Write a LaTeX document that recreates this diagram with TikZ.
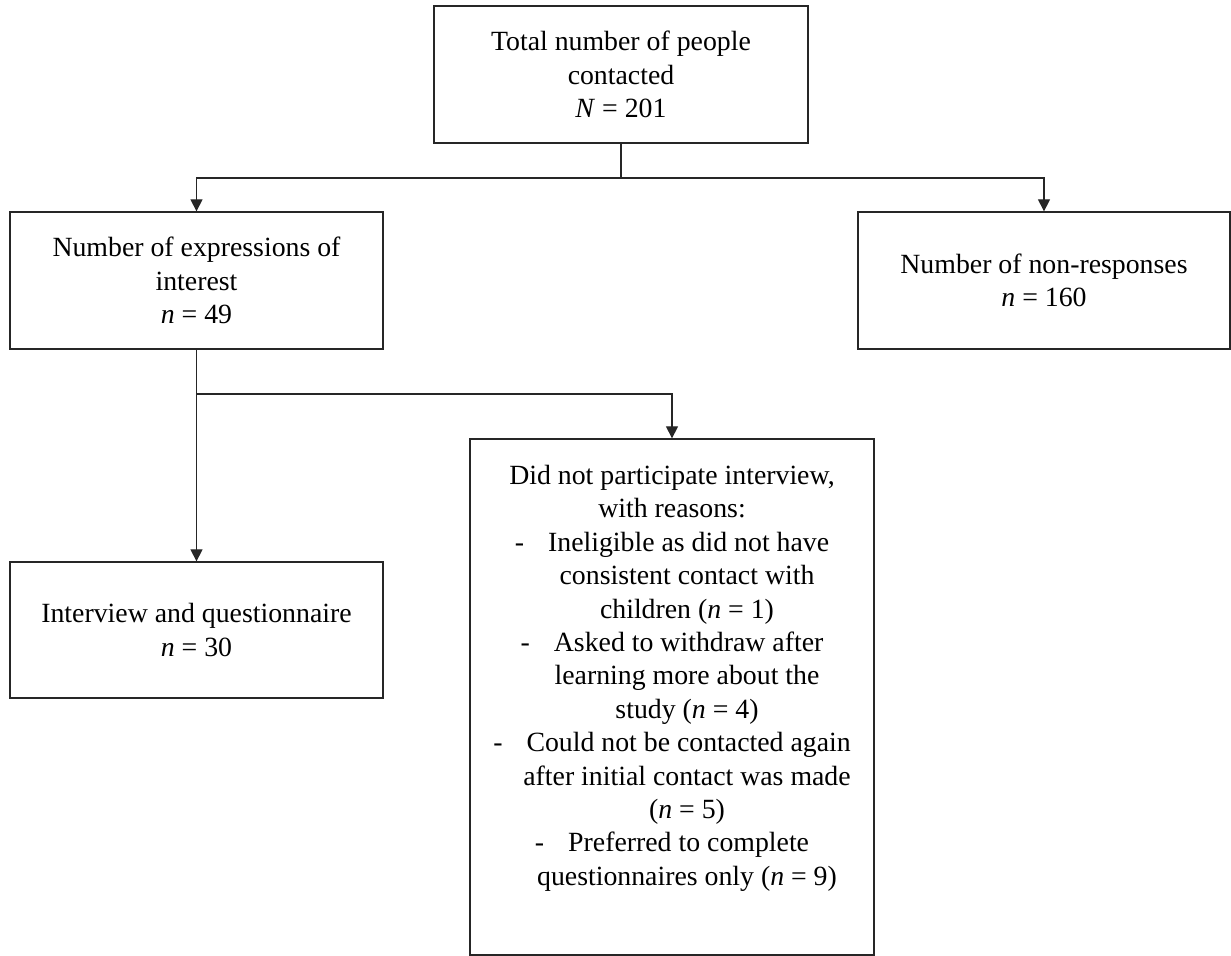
\documentclass[tikz,border=0pt]{standalone}
\usepackage{fontspec}
\setmainfont{Liberation Serif}
\usetikzlibrary{arrows.meta}

\begin{document}
\begin{tikzpicture}[x=0.5pt, y=-0.5pt,
        flowbox/.style={draw=black!85, line width=0.65pt, align=center, inner sep=0pt,
                font=\fontsize{13.9pt}{16.7pt}\selectfont},
        flowline/.style={draw=black!85, line width=0.65pt},
        flowarrow/.style={flowline, -{Triangle[length=6pt,width=6pt]}}]
    \useasboundingbox (0,0) rectangle (1231,956);
    % Draw the boxes
    \node[flowbox, minimum width=187pt, minimum height=68.5pt] (total) at (621,74.5)
        {Total number of people\\contacted\\\textit{N} = 201};
    \node[flowbox, minimum width=186.5pt, minimum height=68.5pt] (interest) at (196.5,280.5)
        {Number of expressions of\\interest\\\textit{n} = 49};
    \node[flowbox, minimum width=186pt, minimum height=68.5pt] (nonresp) at (1044,280.5)
        {Number of non-responses\\\textit{n} = 160};
    \node[flowbox, minimum width=186.5pt, minimum height=68pt] (interview) at (196.5,630)
        {Interview and questionnaire\\\textit{n} = 30};
    \node[flowbox, minimum width=202pt, minimum height=258pt] (reasons) at (672,697)
        {Did not participate interview,\\
            with reasons:\\
            -\hspace{12pt}Ineligible as did not have\\
            \hspace*{15pt}consistent contact with\\
            \hspace*{15pt}children (\textit{n} = 1)\\
            -\hspace{12pt}Asked to withdraw after\\
            \hspace*{15pt}learning more about the\\
            \hspace*{15pt}study (\textit{n} = 4)\\
            -\hspace{12pt}Could not be contacted again\\
            \hspace*{15pt}after initial contact was made\\
            \hspace*{15pt}(\textit{n} = 5)\\
            -\hspace{12pt}Preferred to complete\\
            \hspace*{15pt}questionnaires only (\textit{n} = 9)\\
            \strut};
    % Split points of the connectors
    \coordinate (split1) at (621,178);
    \coordinate (split2) at (196.5,394);
    % Draw the connectors
    \draw[flowline] (total.south) -- (split1);
    \foreach \target in {interest, nonresp} {
            \draw[flowarrow] (split1) -| (\target.north);
        }
    \draw[flowarrow] (interest.south) -- (interview.north);
    \draw[flowarrow] (split2) -| (reasons.north);
\end{tikzpicture}
\end{document}
